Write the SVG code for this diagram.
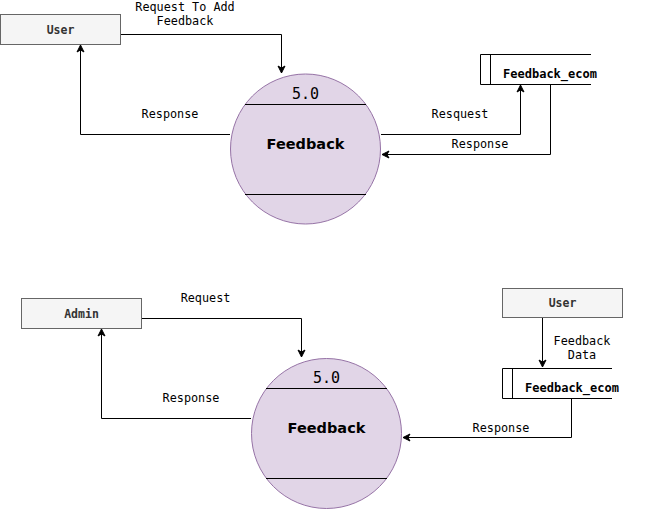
<svg xmlns="http://www.w3.org/2000/svg" width="653" height="509" viewBox="0 0 653 509">
<style>
.box{fill:#f5f5f5;stroke:#666666;stroke-width:1}
.boxt{font-family:"DejaVu Sans Mono","Liberation Mono",monospace;font-weight:bold;font-size:11.5px;fill:#333333;text-anchor:middle}
.proc{fill:#e1d5e7;stroke:#9673a6;stroke-width:1}
.div{stroke:#000;stroke-width:1}
.num{font-family:"DejaVu Sans Mono","Liberation Mono",monospace;font-size:15px;fill:#000;text-anchor:middle}
.pt{font-family:"DejaVu Sans","Verdana",sans-serif;font-weight:bold;font-size:14.5px;fill:#000;text-anchor:middle}
.store{fill:#fff;stroke:#000;stroke-width:1}
.st{font-family:"DejaVu Sans Mono","Liberation Mono",monospace;font-weight:bold;font-size:12px;fill:#000;text-anchor:middle}
.edge{fill:none;stroke:#000;stroke-width:1}
.lbl{font-family:"DejaVu Sans Mono","Liberation Mono",monospace;font-size:11.8px;fill:#000;text-anchor:middle}
</style>
<defs>
<marker id="arr" markerWidth="10" markerHeight="10" refX="8" refY="5" orient="auto" markerUnits="userSpaceOnUse">
<path d="M1,1.5 L8,5 L1,8.5 L3,5 Z" fill="#000" stroke="#000" stroke-width="1"/>
</marker>
</defs>
<rect width="653" height="509" fill="#fff"/>
<g id="connectors">
<path class="edge" d="M121,34.5 H281.5 V73" marker-end="url(#arr)"/>
<path class="edge" d="M230,134.5 H80.5 V45" marker-end="url(#arr)"/>
<path class="edge" d="M381,134.5 H520.5 V85" marker-end="url(#arr)"/>
<path class="edge" d="M550.5,84 V154.5 H382" marker-end="url(#arr)"/>
<path class="edge" d="M142,318.5 H301.5 V357" marker-end="url(#arr)"/>
<path class="edge" d="M251,418.5 H101.5 V329" marker-end="url(#arr)"/>
<path class="edge" d="M542.5,318 V367" marker-end="url(#arr)"/>
<path class="edge" d="M571.5,398 V437.5 H403" marker-end="url(#arr)"/>
<text class="lbl" x="185" y="11">Request To Add</text>
<text class="lbl" x="185" y="25">Feedback</text>
<text class="lbl" x="170" y="118">Response</text>
<text class="lbl" x="460" y="118">Resquest</text>
<text class="lbl" x="480" y="148">Response</text>
<text class="lbl" x="205.5" y="302">Request</text>
<text class="lbl" x="191" y="402">Response</text>
<text class="lbl" x="582" y="345">Feedback</text>
<text class="lbl" x="582" y="359">Data</text>
<text class="lbl" x="501" y="432">Response</text>
</g>
<g id="user1">
<rect class="box" x="0.5" y="14.5" width="120" height="30"/>
<text class="boxt" x="60.5" y="33.5">User</text>
</g>
<g id="process1">
<circle class="proc" cx="305.5" cy="149" r="75"/>
<line class="div" x1="245" y1="104.5" x2="366" y2="104.5"/>
<line class="div" x1="245" y1="194.5" x2="366" y2="194.5"/>
<text class="num" x="305.5" y="98.5">5.0</text>
<text class="pt" x="305.5" y="149">Feedback</text>
</g>
<g id="store1">
<path class="store" d="M591,54.5 H480.5 V84.5 H591" />
<line class="div" x1="490.5" y1="54.5" x2="490.5" y2="84.5"/>
<text class="st" x="550" y="78">Feedback_ecom</text>
</g>
<g id="admin">
<rect class="box" x="21.5" y="298.5" width="120" height="30"/>
<text class="boxt" x="81.5" y="317.5">Admin</text>
</g>
<g id="process2">
<circle class="proc" cx="326.5" cy="433.5" r="75"/>
<line class="div" x1="266" y1="388.5" x2="387" y2="388.5"/>
<line class="div" x1="266" y1="478.5" x2="387" y2="478.5"/>
<text class="num" x="326.5" y="382.5">5.0</text>
<text class="pt" x="326.5" y="433">Feedback</text>
</g>
<g id="user2">
<rect class="box" x="502.5" y="288.5" width="120" height="29"/>
<text class="boxt" x="562.5" y="307">User</text>
</g>
<g id="store2">
<path class="store" d="M612,368.5 H502.5 V398.5 H612" />
<line class="div" x1="512.5" y1="368.5" x2="512.5" y2="398.5"/>
<text class="st" x="572" y="392">Feedback_ecom</text>
</g>
</svg>
